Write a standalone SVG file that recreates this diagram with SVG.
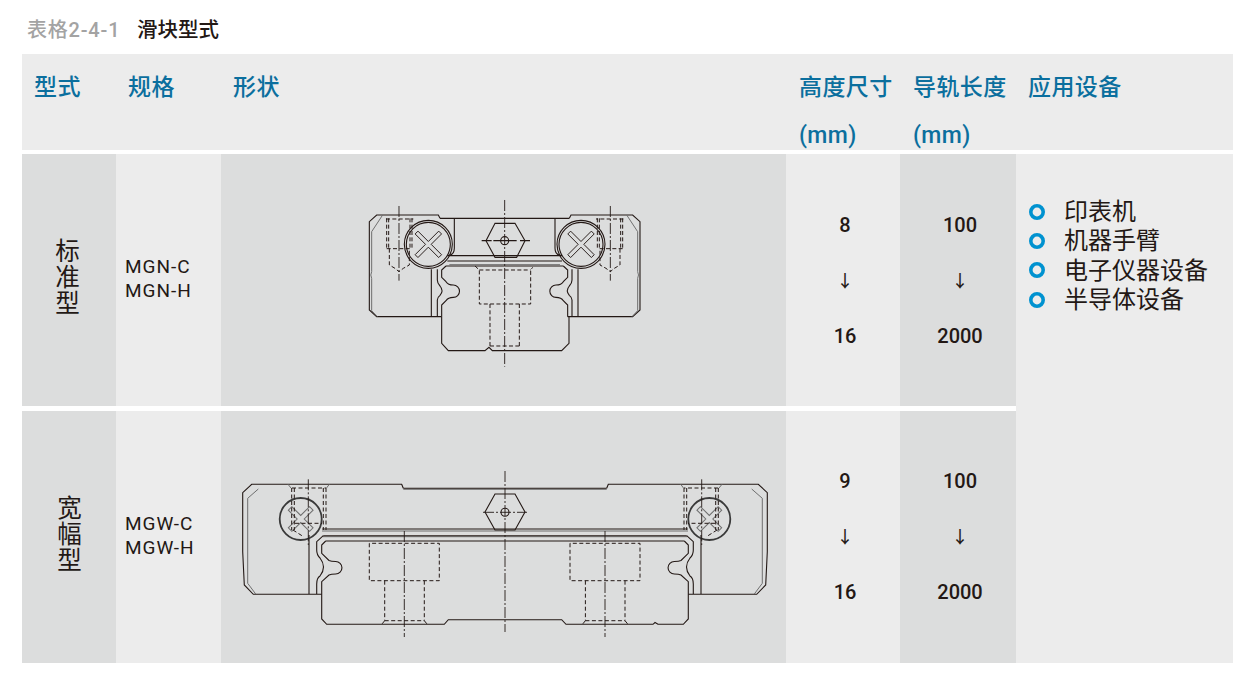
<svg xmlns="http://www.w3.org/2000/svg" xmlns:xlink="http://www.w3.org/1999/xlink" width="1243" height="681" viewBox="0 0 1243 681">
<style>
text{font-family:"Roboto","Noto Sans CJK SC","Noto Sans",sans-serif;fill:#231815}
.h{font-size:23px;fill:#0b6f9e;font-weight:500;letter-spacing:.4px}
.d{fill:#dcdddd}.l{fill:#ececec}
.c{font-size:20px;text-anchor:middle;font-weight:500}
.ar{font-size:17px;text-anchor:middle;font-weight:500}
.t{font-size:24px}
.v{font-size:24.500px;writing-mode:vertical-rl;letter-spacing:1.500px}
.m{font-size:19px;letter-spacing:1px}
.b{fill:none;stroke:#0092d0;stroke-width:3.6}
.s{fill:none;stroke:#231815;stroke-width:1.1}
.g{fill:none;stroke:#6e6e6e;stroke-width:1}
.da{fill:none;stroke:#231815;stroke-width:1;stroke-dasharray:4 2.5}
.cl{fill:none;stroke:#231815;stroke-width:.9;stroke-dasharray:11 2 2 2}
.zs{fill:none;stroke:#231815;stroke-width:3.3}
.zx{fill:none;stroke:#231815;stroke-width:2.7}
.zg{fill:none;stroke:#6e6e6e;stroke-width:3}
.zda{fill:none;stroke:#231815;stroke-width:3;stroke-dasharray:12 7}
.zcl{fill:none;stroke:#231815;stroke-width:2.7;stroke-dasharray:33 6 6 6}
.sc{fill:none;stroke:#3a3a3a;stroke-width:1.800}
</style>
<defs>
<g id="half1">
<path class="zs" d="M240 85L235 75H50L28 95V360L50 380H245"/>
<path class="zg" d="M68 75L35 125V245Q30 255 35 265V362L52 380"/>
<path class="zs" d="M240 85H434M283 85V175Q283 197 262 197H434M262 213H434M258 228H434"/>
<path class="zg" d="M268 224H434"/>
<path class="zs" d="M214 238V380M232 380V330Q232 322 240 316Q252 302 240 288Q232 280 232 270V238"/>
<path class="zs" d="M258 228L245 240V262L258 275Q264 285 280 285A18.500 18.500 0 0 1 280 322Q264 322 258 332L245 345V380"/>
<circle class="zs" cx="205" cy="163" r="72"/><circle class="zs" cx="205" cy="163" r="66"/>
<g transform="rotate(45 205 163)"><path class="zx" d="M199 113H211V157H255V169H211V213H199V169H155V157H199Z"/></g>
<path class="zda" d="M80 85V176M86 85V176M150 85V176M156 85V176M80 176H150M88 176V225L105 235L117 245L130 235L148 225V176M78 87H160"/>
<path class="zcl" d="M117 48V272"/>
</g>
<g id="half2">
<path class="s" d="M403.300 488.300L401.700 484.300H251.700L242.700 492.700V551.700L244.300 585L253.300 594.300H321.700"/>
<path class="g" d="M258.300 489L247.700 498.300V583.300L255.700 594M403.300 489.300H505M322 531H505M323 536.700H505"/>
<path class="s" d="M403.300 488.300H505M322.300 529H505M323.300 535.700H505M325.700 541H505"/>
<path class="s" d="M309 535V594M316.700 594V584Q316.700 578 320 576Q327 567 320 558Q316.700 555 316.700 550V541.700L323.300 535.700"/>
<path class="s" d="M325.700 541L321.700 545V553.300L329 560.500Q331 561.500 335.700 561.500A6.200 6.200 0 0 1 335.700 574Q331 574 329 575L321.700 581.700V594"/>
<circle class="sc" cx="300.700" cy="519" r="21"/>
<g transform="rotate(45 300.700 519)"><path class="g" d="M298.200 504H303.200V516.500H315.700V521.500H303.200V534H298.200V521.500H285.700V516.500H298.200Z"/></g>
<path class="da" d="M291.700 488V530M294.300 488V530M323.300 488V530M326 488V530M292 488H326M295 523.300H322M293 530L304 537"/>
<path class="g" d="M288 484.300L291 488M329.300 484.300L326.500 488"/>
<path class="cl" d="M308.300 479.300V545"/>
</g>
<g id="bore">
<path class="da" d="M369.300 543.300V580.700H439.300V543.300H369.300M384.700 580.700V620.700M424.300 580.700V620.700M384.700 620.700H424.300M384.700 620.700L382 624M424.300 620.700L427 624"/>
<path class="cl" d="M404.300 531V637"/>
</g>
</defs>
<rect width="1243" height="681" fill="#fff"/>
<g id="table">
<rect class="l" x="22" y="54" width="1211" height="96"/>
<rect class="d" x="22" y="154" width="94" height="252"/>
<rect class="l" x="116" y="154" width="105" height="252"/>
<rect class="d" x="221" y="154" width="565" height="252"/>
<rect class="l" x="786" y="154" width="114" height="252"/>
<rect class="d" x="900" y="154" width="116" height="252"/>
<rect class="d" x="22" y="411" width="94" height="252"/>
<rect class="l" x="116" y="411" width="105" height="252"/>
<rect class="d" x="221" y="411" width="565" height="252"/>
<rect class="l" x="786" y="411" width="114" height="252"/>
<rect class="d" x="900" y="411" width="116" height="252"/>
<rect class="l" x="1016" y="154" width="217" height="509"/>
</g>
<g id="title">
<text x="27" y="37" font-size="20" style="fill:#a3a3a3;font-weight:500;letter-spacing:.8px">表格2-4-1</text>
<text x="137" y="37" font-size="20.500" style="font-weight:500">滑块型式</text>
</g>
<g id="header">
<text class="h" x="34" y="94.500">型式</text>
<text class="h" x="128" y="94.500">规格</text>
<text class="h" x="233" y="94.500">形状</text>
<text class="h" x="799" y="94.500">高度尺寸</text>
<text class="h" x="913" y="94.500">导轨长度</text>
<text class="h" x="1028" y="94.500">应用设备</text>
<text class="h" x="799" y="143">(mm)</text>
<text class="h" x="913" y="143">(mm)</text>
</g>
<g id="row-standard">
<text class="v" x="65.500" y="238">标准型</text>
<text class="m" x="125" y="273">MGN-C</text>
<text class="m" x="125" y="297">MGN-H</text>
<text class="c" x="845" y="232">8</text>
<text class="ar" x="845" y="287">↓</text>
<text class="c" x="845" y="343">16</text>
<text class="c" x="960" y="232">100</text>
<text class="ar" x="960" y="287">↓</text>
<text class="c" x="960" y="343">2000</text>
</g>
<g id="row-wide">
<text class="v" x="67.500" y="495">宽幅型</text>
<text class="m" x="125" y="530">MGW-C</text>
<text class="m" x="125" y="554">MGW-H</text>
<text class="c" x="845" y="488">9</text>
<text class="ar" x="845" y="543">↓</text>
<text class="c" x="845" y="599">16</text>
<text class="c" x="960" y="488">100</text>
<text class="ar" x="960" y="543">↓</text>
<text class="c" x="960" y="599">2000</text>
</g>
<g id="applications">
<circle class="b" cx="1037" cy="212" r="6.200"/>
<circle class="b" cx="1037" cy="241" r="6.200"/>
<circle class="b" cx="1037" cy="270" r="6.200"/>
<circle class="b" cx="1037" cy="300" r="6.200"/>
<text class="t" x="1064" y="220">印表机</text>
<text class="t" x="1064" y="249">机器手臂</text>
<text class="t" x="1064" y="279">电子仪器设备</text>
<text class="t" x="1064" y="308">半导体设备</text>
</g>
<g id="drawing-standard" transform="translate(360 190) scale(.33333)">
<use href="#half1" xlink:href="#half1"/>
<use href="#half1" xlink:href="#half1" transform="translate(868 0) scale(-1 1)"/>
<path class="zs" d="M245 380V460L265 482H375L387 472L397 482H605L627 460V380"/>
<path class="zs" d="M405 100H465L495 152L470 202H405L378 152Z"/>
<circle class="zs" cx="434" cy="152" r="12"/>
<path class="zs" d="M365 152H395M400 152H470M480 152H510"/>
<path class="zda" d="M345 228L358 240V342H512V240L518 232M358 240H512M390 342V470M478 342V470M390 468H480"/>
<path class="zcl" d="M434 30V530"/>
</g>
<g id="drawing-wide">
<use href="#half2" xlink:href="#half2"/>
<use href="#half2" xlink:href="#half2" transform="translate(1010 0) scale(-1 1)"/>
<path class="s" d="M321.700 594V619L326.700 624.300H444.300L448.300 619.700H561.700L566 624.300H653L655 622.500L658 624.300H683.300L688.300 619V594"/>
<path class="s" d="M495 494H515L525 512L515 530H495L485 512Z"/>
<circle class="s" cx="505" cy="512.300" r="4"/>
<path class="cl" d="M483 512.300H527"/>
<path class="cl" d="M505 471V632"/>
<use href="#bore" xlink:href="#bore"/>
<use href="#bore" xlink:href="#bore" transform="translate(200.700 0)"/>
</g>
</svg>
